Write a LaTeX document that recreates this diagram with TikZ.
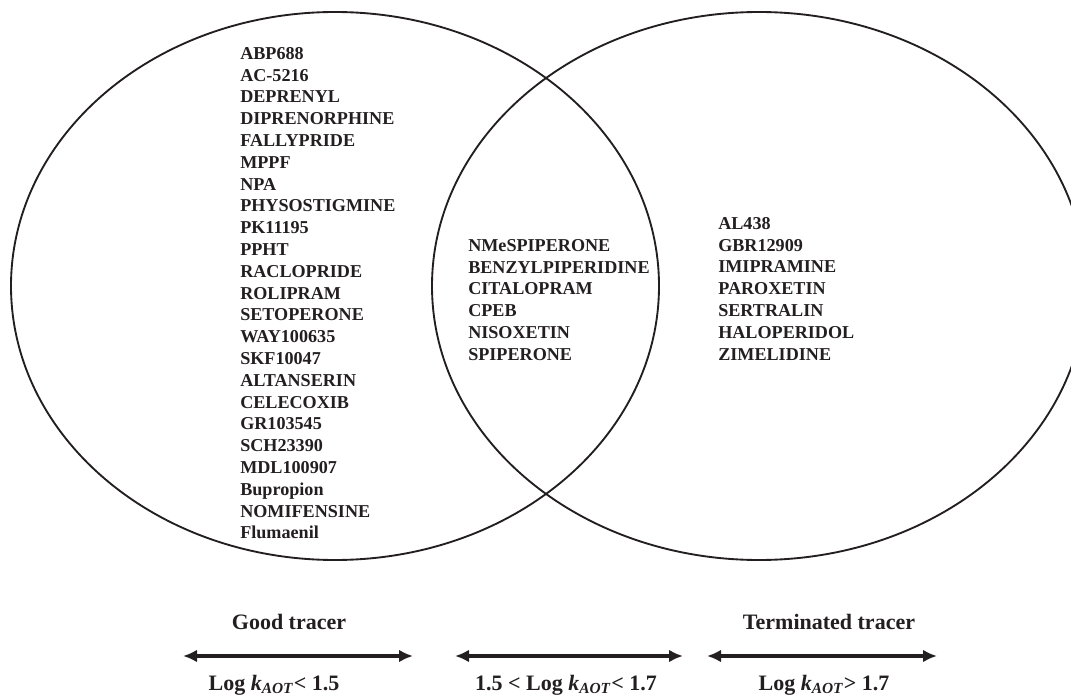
\documentclass[tikz,border=0pt]{standalone}
\usepackage{fontspec}
\setmainfont{Liberation Serif}
\usetikzlibrary{shapes.geometric,arrows.meta}
\definecolor{ink}{HTML}{231F20}
\tikzset{
  venn/.style={ellipse, draw=ink, line width=1.4pt, inner sep=0pt, minimum height=411pt},
  druglist/.style={anchor=north west, inner sep=0pt, align=left, text=ink,
    font=\bfseries\fontsize{13.6pt}{16.35pt}\selectfont},
  caplabel/.style={anchor=base, inner sep=0pt, text=ink, font=\bfseries\fontsize{16.5pt}{19pt}\selectfont},
  rangearrow/.style={ink, line width=2.5pt, {Latex[length=10.5pt,width=9.5pt]}-{Latex[length=10.5pt,width=9.5pt]}}
}
\newcommand{\kaot}{\textit{k}\textsubscript{\textit{AOT}}}
\begin{document}
\begin{tikzpicture}[x=0.75pt,y=-0.75pt]
\useasboundingbox (0,0) rectangle (1071,695);
\clip (0,0) rectangle (1071,695);
\node[venn, minimum width=486pt] (good) at (335,286) {};
\node[venn, minimum width=490.5pt] (term) at (759,286) {};

\node[druglist] (goodlist) at (240,47) {ABP688\\AC-5216\\DEPRENYL\\DIPRENORPHINE\\FALLYPRIDE\\MPPF\\NPA\\PHYSOSTIGMINE\\PK11195\\PPHT\\RACLOPRIDE\\ROLIPRAM\\SETOPERONE\\WAY100635\\SKF10047\\ALTANSERIN\\CELECOXIB\\GR103545\\SCH23390\\MDL100907\\Bupropion\\NOMIFENSINE\\Flumaenil};
\node[druglist] (midlist) at (468,239) {NMeSPIPERONE\\BENZYLPIPERIDINE\\CITALOPRAM\\CPEB\\NISOXETIN\\SPIPERONE};
\node[druglist] (termlist) at (718,217) {AL438\\GBR12909\\IMIPRAMINE\\PAROXETIN\\SERTRALIN\\HALOPERIDOL\\ZIMELIDINE};

\node[caplabel] (goodlab) at (289,629) {Good tracer};
\node[caplabel] (termlab) at (829,629) {Terminated tracer};

\coordinate (a1l) at (183,656); \coordinate (a1r) at (413,656);
\coordinate (a2l) at (455,656); \coordinate (a2r) at (683,656);
\coordinate (a3l) at (707,656); \coordinate (a3r) at (937,656);
\draw[rangearrow] (a1l) -- (a1r);
\draw[rangearrow] (a2l) -- (a2r);
\draw[rangearrow] (a3l) -- (a3r);

\node[caplabel] (r1) at (274,690) {Log \kaot< 1.5};
\node[caplabel] (r2) at (566,690) {1.5 < Log \kaot< 1.7};
\node[caplabel] (r3) at (824,690) {Log \kaot> 1.7};
\end{tikzpicture}
\end{document}
